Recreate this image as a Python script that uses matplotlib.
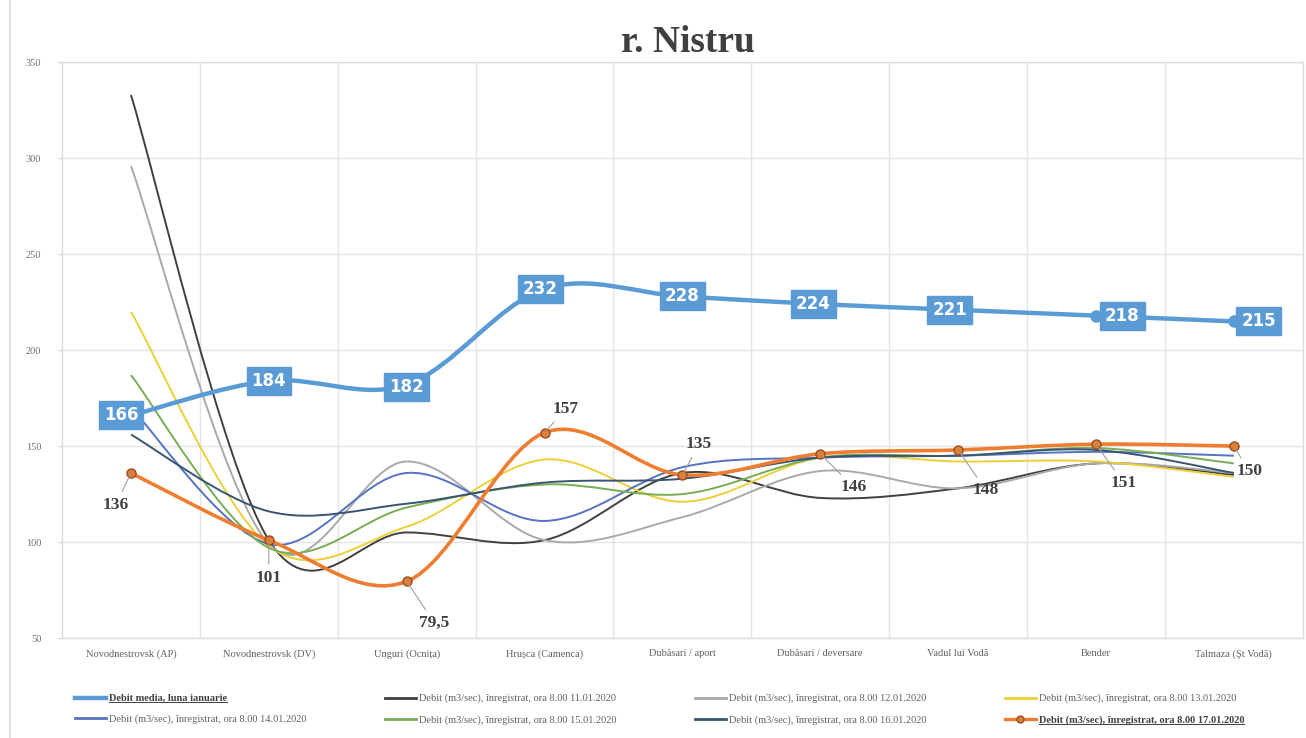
import matplotlib
matplotlib.use("Agg")
import matplotlib.pyplot as plt
from matplotlib.path import Path
from matplotlib.patches import PathPatch
from matplotlib.lines import Line2D

# Stations along the river
stations = ["Novodnestrovsk (AP)", "Novodnestrovsk (DV)", "Unguri (Ocnița)",
            "Hrușca (Camenca)", "Dubăsari / aport", "Dubăsari / deversare",
            "Vadul lui Vodă", "Bender", "Talmaza (Şt Vodă)"]

# Monthly average discharge (January)
debit_media = [166, 184, 182, 232, 228, 224, 221, 218, 215]

# Recorded discharge, 8:00, by day
d_11 = [333, 101, 105, 101, 136, 123, 128, 141, 135]
d_12 = [296, 99, 142, 101, 113, 137, 128, 141, 136]
d_13 = [220, 98, 108, 143, 121, 144, 142, 142, 134]
d_14 = [170, 99, 136, 111, 139, 144, 145, 147, 145]
d_15 = [187, 97, 118, 130, 125, 144, 145, 149, 141]
d_16 = [156, 116, 120, 131, 133, 144, 145, 148, 136]
d_17 = [136, 101, 79.5, 157, 135, 146, 148, 151, 150]
d_17_labels = ["136", "101", "79,5", "157", "135", "146", "148", "151", "150"]

legend_labels = [
    "Debit media, luna ianuarie",
    "Debit (m3/sec), înregistrat, ora 8.00 11.01.2020",
    "Debit (m3/sec), înregistrat, ora 8.00 12.01.2020",
    "Debit (m3/sec), înregistrat, ora 8.00 13.01.2020",
    "Debit (m3/sec), înregistrat, ora 8.00 14.01.2020",
    "Debit (m3/sec), înregistrat, ora 8.00 15.01.2020",
    "Debit (m3/sec), înregistrat, ora 8.00 16.01.2020",
    "Debit (m3/sec), înregistrat, ora 8.00 17.01.2020",
]


def smooth_path(xs, ys):
    # Excel-like smoothed line (Catmull-Rom as cubic Bezier)
    n = len(xs)
    verts = [(xs[0], ys[0])]
    codes = [Path.MOVETO]
    for i in range(n - 1):
        x0, y0 = xs[max(i - 1, 0)], ys[max(i - 1, 0)]
        x1, y1 = xs[i], ys[i]
        x2, y2 = xs[i + 1], ys[i + 1]
        x3, y3 = xs[min(i + 2, n - 1)], ys[min(i + 2, n - 1)]
        verts += [(x1 + (x2 - x0) / 6, y1 + (y2 - y0) / 6),
                  (x2 - (x3 - x1) / 6, y2 - (y3 - y1) / 6),
                  (x2, y2)]
        codes += [Path.CURVE4] * 3
    return Path(verts, codes)


plt.rcParams['font.family'] = ['Liberation Serif', 'DejaVu Serif']

fig = plt.figure(figsize=(13.06, 7.38), dpi=100)
ax = fig.add_axes([0.0475, 0.1355, 0.95, 0.78])

x = list(range(len(stations)))

thin_series = [
    (d_11, "#404040", 1.4),
    (d_12, "#a9a9a9", 1.4),
    (d_13, "#ecd03a", 1.4),
    (d_14, "#5673c2", 1.4),
    (d_15, "#78ad55", 1.4),
    (d_16, "#3a5573", 1.4),
]
handles = [Line2D([], [], color="#5b9bd5", lw=3.2)]
for vals, col, lw in thin_series:
    ax.add_patch(PathPatch(smooth_path(x, vals), fc="none", ec=col, lw=lw, zorder=3))
    handles.append(Line2D([], [], color=col, lw=2))

# orange series
ax.add_patch(PathPatch(smooth_path(x, d_17), fc="none", ec="#ed7d31", lw=2.6, zorder=4))
ax.plot(x, d_17, ls="none", marker="o", ms=6.5, mfc="#d9803f", mec="#9c4e1c",
        mew=1.0, zorder=5)
handles.append(Line2D([], [], color="#ed7d31", lw=2.4, marker="o", ms=5,
                      mfc="#d9803f", mec="#9c4e1c"))

# blue average series
ax.add_patch(PathPatch(smooth_path(x, debit_media), fc="none", ec="#5b9bd5", lw=3.2, zorder=6))
ax.plot(x, debit_media, ls="none", marker="o", ms=8, color="#5b9bd5", zorder=6)

blue_offsets = [(-7, 0), (0, 0), (0, -2), (-3, 0), (0, 0), (-5, 0), (-6, 0), (19, 0), (18, 0)]
for xi, v, off in zip(x, debit_media, blue_offsets):
    ax.annotate(str(v), (xi, v), xytext=off, textcoords="offset points",
                ha="center", va="center", fontsize=12, fontweight="bold",
                color="white", family="DejaVu Sans", zorder=7,
                bbox=dict(boxstyle="square,pad=0.3", fc="#5b9bd5", ec="#5b9bd5"))

orange_offsets = [(-11, -23), (0, -27), (20, -30), (15, 17), (12, 22),
                  (24, -24), (20, -29), (20, -28), (11, -18)]
for xi, v, lab, off in zip(x, d_17, d_17_labels, orange_offsets):
    ax.annotate(lab, (xi, v), xytext=off, textcoords="offset points",
                ha="center", va="center", fontsize=12.5, fontweight="bold",
                color="#404040", zorder=8,
                arrowprops=dict(arrowstyle="-", color="#a0a0a0", lw=0.8,
                                shrinkA=2, shrinkB=3))

ax.set_xlim(-0.5, len(stations) - 0.5)
ax.set_ylim(50, 350)
ax.set_yticks(range(50, 351, 50))
ax.set_xticks(x)
ax.set_xticklabels(stations, fontsize=7.5, color="#606060")
ax.tick_params(axis="y", labelsize=7.5, labelcolor="#707070", length=3,
               color="#d0d0d0", pad=12)
ax.tick_params(axis="x", length=0, pad=8)
ax.set_xticks([i + 0.5 for i in x[:-1]], minor=True)
ax.grid(False)
ax.grid(True, which="major", axis="y", color="#e4e4e4", lw=1)
ax.grid(True, which="minor", axis="x", color="#e4e4e4", lw=1)
ax.tick_params(axis="x", which="minor", length=0)
for s in ax.spines.values():
    s.set_color("#dcdcdc")
    s.set_linewidth(1)

fig.text(0.527, 0.942, "r. Nistru", ha="center", va="center", fontsize=27,
         fontweight="bold", color="#404040")

# legend, filled row by row
order = [0, 4, 1, 5, 2, 6, 3, 7]
leg = fig.legend([handles[i] for i in order], [legend_labels[i] for i in order],
                 ncol=4, loc="center", bbox_to_anchor=(0.505, 0.039), frameon=False,
                 fontsize=7.5, handlelength=3, columnspacing=7.5, handletextpad=0.3,
                 labelspacing=1.1)
for t in leg.get_texts():
    t.set_color("#606060")
for i in (0, 7):
    t = leg.get_texts()[order.index(i)]
    t.set_fontweight("bold")
    t.set_color("#404040")

# frame line at the left edge
fig.add_artist(Line2D([0.008, 0.008], [0.0, 1.0], color="#e0e0e0", lw=1.5,
                      transform=fig.transFigure))

# underline the two bold legend entries
fig.canvas.draw()
r = fig.canvas.get_renderer()
for i in (0, 7):
    t = leg.get_texts()[order.index(i)]
    bb = t.get_window_extent(r)
    fig.add_artist(Line2D([bb.x0, bb.x1], [bb.y0 + 1, bb.y0 + 1], color="#404040",
                          lw=0.7, transform=None))

fig.savefig("out.png", dpi=100)
